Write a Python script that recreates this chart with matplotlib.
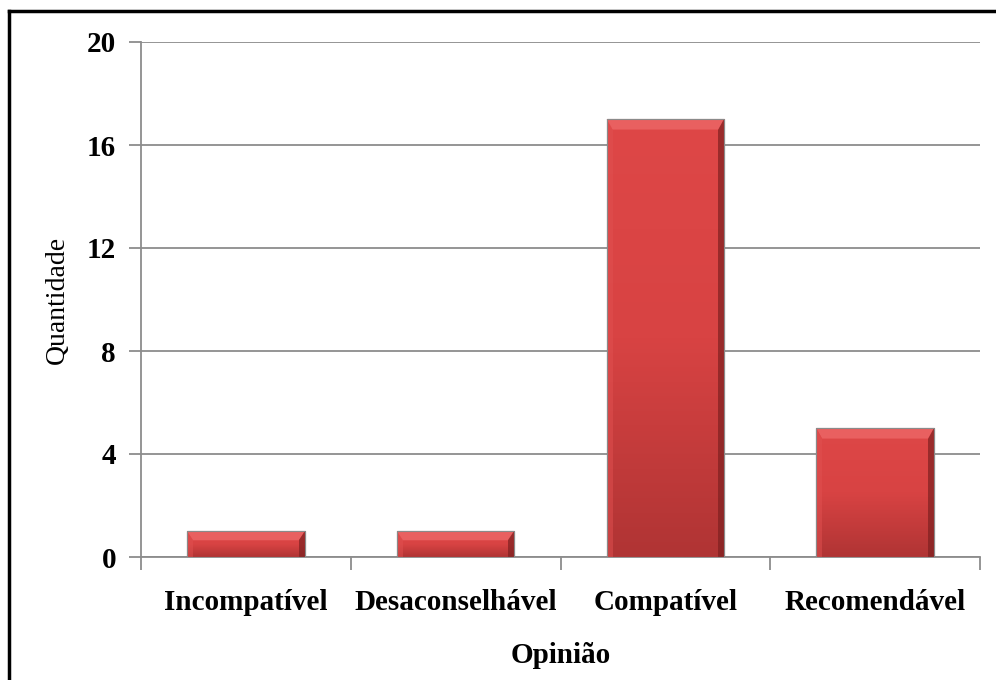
import matplotlib.pyplot as plt
import numpy as np
from matplotlib.colors import LinearSegmentedColormap
from matplotlib.patches import Polygon

categories = ["Incompatível", "Desaconselhável", "Compatível", "Recomendável"]
values = [1, 1, 17, 5]
yticks = [0, 4, 8, 12, 16, 20]

plt.rcParams["font.family"] = ["Liberation Serif", "DejaVu Serif"]

fig = plt.figure(figsize=(9.96, 6.8), dpi=100)
ax = fig.add_axes([141 / 996, 1 - 557 / 680, 839 / 996, 515 / 680])

x = np.arange(len(categories))
width = 0.56
bars = ax.bar(x, values, width=width, color="#d24242", edgecolor="#8a2a2a",
              linewidth=0.8, zorder=3)

# shaded fill for each bar
cmap = LinearSegmentedColormap.from_list("bar", ["#b03434", "#d84343", "#de4747"])
grad = np.linspace(0, 1, 256).reshape(-1, 1)
for b in bars:
    x0, y0 = b.get_x(), b.get_y()
    w, h = b.get_width(), b.get_height()
    im = ax.imshow(grad, cmap=cmap, origin="lower", aspect="auto",
                   extent=[x0, x0 + w, y0, y0 + h], zorder=3.5)
    im.set_clip_path(b)
    # bevel: lighter top, darker sides
    bev_x = w * 0.05
    bev_y = min(h * 0.35, 0.4)
    top = Polygon([[x0, y0 + h], [x0 + w, y0 + h], [x0 + w - bev_x, y0 + h - bev_y],
                   [x0 + bev_x, y0 + h - bev_y]], closed=True,
                  facecolor="#ee6a6a", edgecolor="none", alpha=0.75, zorder=4)
    right = Polygon([[x0 + w, y0 + h], [x0 + w, y0], [x0 + w - bev_x, y0],
                     [x0 + w - bev_x, y0 + h - bev_y]], closed=True,
                    facecolor="#7e2020", edgecolor="none", alpha=0.7, zorder=4)
    left = Polygon([[x0, y0 + h], [x0, y0], [x0 + bev_x, y0],
                    [x0 + bev_x, y0 + h - bev_y]], closed=True,
                   facecolor="#e05050", edgecolor="none", alpha=0.5, zorder=4)
    for p in (top, right, left):
        ax.add_patch(p)
    ax.add_patch(plt.Rectangle((x0, y0), w, h, fill=False, edgecolor="#8a8a8a",
                               linewidth=0.8, zorder=5))

ax.set_xlim(-0.5, len(categories) - 0.5)
ax.set_ylim(0, 20)
ax.set_yticks(yticks)
ax.set_yticklabels([str(t) for t in yticks], fontsize=21, fontweight="bold")
ax.set_xticks(x)
ax.set_xticklabels(categories, fontsize=21, fontweight="bold")
ax.set_xticks(np.arange(len(categories) + 1) - 0.5, minor=True)
ax.tick_params(axis="x", which="major", length=0, pad=23)
ax.tick_params(axis="x", which="minor", length=9, color="#8c8c8c", width=1.3)
ax.tick_params(axis="y", length=9, color="#8c8c8c", width=1.3, pad=9)

ax.grid(axis="y", color="#8c8c8c", linewidth=1.3, zorder=0)
ax.set_axisbelow(True)
for s in ["top", "right"]:
    ax.spines[s].set_visible(False)
for s in ["left", "bottom"]:
    ax.spines[s].set_color("#8c8c8c")
    ax.spines[s].set_linewidth(1.3)

ax.set_ylabel("Quantidade", fontsize=20, labelpad=12)
ax.set_xlabel("Opinião", fontsize=21, fontweight="bold", labelpad=19)

# outer border (top and left visible)
fig.add_artist(plt.Line2D([9 / 996, 9 / 996], [0, 1 - 11 / 680], color="black",
                          linewidth=2.5, transform=fig.transFigure))
fig.add_artist(plt.Line2D([9 / 996, 1], [1 - 11 / 680, 1 - 11 / 680], color="black",
                          linewidth=2.5, transform=fig.transFigure))

fig.savefig("out.png", dpi=100)
